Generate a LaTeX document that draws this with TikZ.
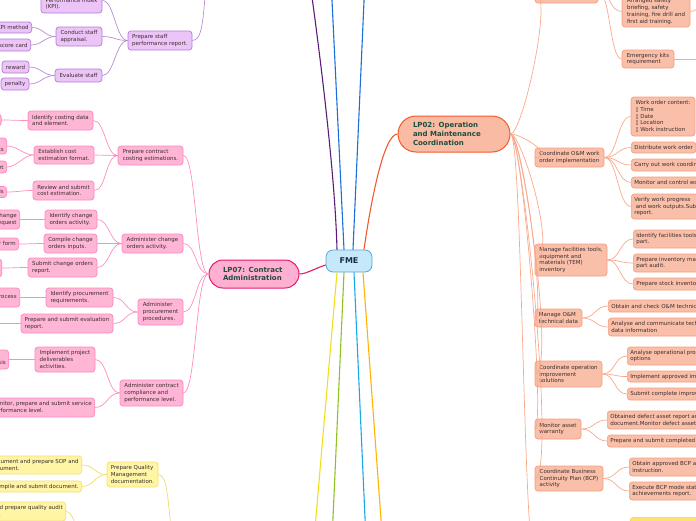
\documentclass[tikz,border=0pt]{standalone}
\usepackage{fontspec}
\setmainfont{DejaVu Sans}
\usetikzlibrary{calc}
\definecolor{txt}{HTML}{3A2E2E}
\definecolor{lptxt}{HTML}{1E4D3C}
\definecolor{fmetxt}{HTML}{1B2A4A}
\definecolor{fmefill}{HTML}{C6E9F9}
\definecolor{fmedraw}{HTML}{5DA3D8}
\definecolor{pkfill}{HTML}{FFB5D5}
\definecolor{pkdraw}{HTML}{FF85BC}
\definecolor{pkline}{HTML}{FF8DC0}
\definecolor{lpsevfill}{HTML}{FFB0D2}
\definecolor{lpsevdraw}{HTML}{E6196F}
\definecolor{sfill}{HTML}{F9BFA9}
\definecolor{sdraw}{HTML}{F59E7E}
\definecolor{sline}{HTML}{F8A98C}
\definecolor{lptwofill}{HTML}{F9BBA4}
\definecolor{lptwodraw}{HTML}{F15A2B}
\definecolor{pfill}{HTML}{ECC4F8}
\definecolor{pdraw}{HTML}{B27CD4}
\definecolor{pline}{HTML}{B98CD4}
\definecolor{yfill}{HTML}{FFF5A5}
\definecolor{ydraw}{HTML}{F1DF73}
\definecolor{yline}{HTML}{EFDD6B}
\definecolor{ybfill}{HTML}{FFE170}
\definecolor{ybdraw}{HTML}{FFD23F}
\definecolor{mpurple}{HTML}{5A1E78}
\definecolor{mblue}{HTML}{1A6FD8}
\definecolor{myellow}{HTML}{F2DE1E}
\definecolor{mgreen}{HTML}{8DC21F}
\definecolor{mlblue}{HTML}{1AA7E8}
\definecolor{morange}{HTML}{FFB300}
\tikzset{
  nd/.style={draw, rounded corners=3pt, align=left, text=txt,
    font=\fontsize{5.5}{6.7}\selectfont, inner xsep=3pt, inner ysep=2pt, line width=0.7pt},
  pkn/.style={nd, fill=pkfill, draw=pkdraw},
  sn/.style={nd, fill=sfill, draw=sdraw},
  pn/.style={nd, fill=pfill, draw=pdraw},
  yn/.style={nd, fill=yfill, draw=ydraw},
  lpn/.style={draw, align=left, text=lptxt, font=\fontsize{7}{8.7}\selectfont\bfseries,
    inner ysep=2pt, line width=1pt},
  fmen/.style={draw=fmedraw, fill=fmefill, rounded corners=7pt, minimum width=46pt,
    minimum height=22pt, font=\fontsize{8}{9}\selectfont\bfseries, text=fmetxt, line width=0.8pt},
  pkl/.style={draw=pkline, line width=0.7pt},
  sl/.style={draw=sline, line width=0.7pt},
  pl/.style={draw=pline, line width=0.7pt},
  yl/.style={draw=yline, line width=0.7pt},
  mainl/.style={line width=1.1pt},
}
\newcommand{\lnkL}[4]{\draw[#1] (#2) .. controls +(-#4,0) and +(#4,0) .. (#3);}
\newcommand{\lnkR}[4]{\draw[#1] (#2) .. controls +(#4,0) and +(-#4,0) .. (#3);}
\begin{document}
\begin{tikzpicture}[x=1pt,y=-1pt]
\useasboundingbox (0,0) rectangle (696,520);
\clip (0,0) rectangle (696,520);

% ---------- main lines from FME ----------
\node[fmen] (fme) at (349,261) {FME};
\coordinate (pu) at (311,-10);
\coordinate (bla) at (331.5,-10);
\coordinate (blb) at (364.5,-10);
\coordinate (ye) at (314,540);
\coordinate (gr) at (332,540);
\coordinate (lb) at (366,540);
\coordinate (orr) at (382.5,540);
\draw[mainl, mpurple] ($(fme.north)+(-12,0)$) .. controls (335,170) and (318,40) .. (pu);
\draw[mainl, mblue] ($(fme.north)+(-5,0)$) -- (bla);
\draw[mainl, mblue] ($(fme.north)+(4,0)$) -- (blb);
\draw[mainl, myellow] ($(fme.south)+(-12,0)$) -- (ye);
\draw[mainl, mgreen] ($(fme.south)+(-5,0)$) -- (gr);
\draw[mainl, mlblue] ($(fme.south)+(5,0)$) -- (lb);
\draw[mainl, morange] ($(fme.south)+(14,0)$) -- (orr);

% ---------- LP07 ----------
\node[lpn, fill=lpsevfill, draw=lpsevdraw, rounded corners=14pt, text width=62pt,
  inner xsep=14pt, minimum height=28pt] (lp7) at (254,274) {LP07: Contract\\Administration};
\draw[mainl, lpsevdraw] ($(fme.west)+(0,4)$) .. controls (316,268) and (306,274) .. (lp7.east);

\node[pkn, minimum width=65pt, minimum height=19pt] (c1) at (150.5,155.5) {Prepare contract\\costing estimations.};
\node[pkn, minimum width=61pt, minimum height=19pt] (c2) at (152.5,243.5) {Administer change\\orders activity.};
\node[pkn, minimum width=45pt, minimum height=26pt] (c3) at (160.5,312) {Administer\\procurement\\procedures.};
\node[pkn, minimum width=63pt, minimum height=26pt] (c4) at (151.5,393) {Administer contract\\compliance and\\performance level.};
\lnkL{pkl}{lp7.west}{c1.east}{13}
\lnkL{pkl}{lp7.west}{c2.east}{13}
\lnkL{pkl}{lp7.west}{c3.east}{13}
\lnkL{pkl}{lp7.west}{c4.east}{13}

\node[pkn, minimum width=65pt, minimum height=19pt] (c1a) at (60.5,120.5) {Identify costing data\\and element.};
\node[pkn, minimum width=60pt, minimum height=18pt] (c1b) at (64,155) {Establish cost\\estimation format.};
\node[pkn, minimum width=61pt, minimum height=19pt] (c1c) at (63.5,190.5) {Review and submit\\cost estimation.};
\lnkL{pkl}{c1.west}{c1a.east}{12}
\lnkL{pkl}{c1.west}{c1b.east}{12}
\lnkL{pkl}{c1.west}{c1c.east}{12}
\node[pkn, anchor=east, minimum height=12pt] (c1a1) at (1.5,120) {Costing data};
\node[pkn, anchor=east, minimum height=16pt] (c1b1) at (7,146) {Cost\\elements};
\node[pkn, anchor=east, minimum height=12pt] (c1b2) at (7,167) {Cost sheet};
\node[pkn, anchor=east, minimum height=11pt] (c1c1) at (7,192) {Cost analysis};
\lnkL{pkl}{c1a.west}{c1a1.east}{10}
\lnkL{pkl}{c1b.west}{c1b1.east}{10}
\lnkL{pkl}{c1b.west}{c1b2.east}{10}
\lnkL{pkl}{c1c.west}{c1c1.east}{10}

\node[pkn, minimum width=52pt, minimum height=19pt] (c2a) at (71,219.5) {Identify change\\orders activity.};
\node[pkn, minimum width=53pt, minimum height=19pt] (c2b) at (70.5,243.5) {Compile change\\orders inputs.};
\node[pkn, minimum width=69pt, minimum height=19pt] (c2c) at (62.5,267.5) {Submit change orders\\report.};
\lnkL{pkl}{c2.west}{c2a.east}{12}
\lnkL{pkl}{c2.west}{c2b.east}{12}
\lnkL{pkl}{c2.west}{c2c.east}{12}
\node[pkn, anchor=east, align=right, minimum height=19pt] (c2a1) at (20,219.5) {Identify change\\order request};
\node[pkn, anchor=east, minimum height=12pt] (c2b1) at (19,244) {Change order form};
\node[pkn, anchor=east, minimum height=18pt] (c2c1) at (2,268) {Change order\\report};
\lnkL{pkl}{c2a.west}{c2a1.east}{10}
\lnkL{pkl}{c2b.west}{c2b1.east}{10}
\lnkL{pkl}{c2c.west}{c2c1.east}{10}

\node[pkn, minimum width=67pt, minimum height=19pt] (c3a) at (79.5,297.5) {Identify procurement\\requirements.};
\node[pkn, minimum width=92pt, minimum height=19pt] (c3b) at (67,323.5) {Prepare and submit evaluation\\report.};
\lnkL{pkl}{c3.west}{c3a.east}{12}
\lnkL{pkl}{c3.west}{c3b.east}{12}
\node[pkn, anchor=east, minimum height=19pt] (c3a1) at (20,297.5) {Procurement process};
\coordinate (c3bx) at (-15,323.5);
\lnkL{pkl}{c3a.west}{c3a1.east}{10}
\lnkL{pkl}{c3b.west}{c3bx}{5}

\node[pkn, minimum width=60pt, minimum height=25pt] (c4a) at (65,359.5) {Implement project\\deliverables\\activities.};
\node[pkn, anchor=east, minimum height=19pt] (c4b) at (95,407.5) {Monitor, prepare and submit service\\performance level.};
\lnkL{pkl}{c4.west}{c4a.east}{12}
\lnkL{pkl}{c4.west}{c4b.east}{12}
\node[pkn, anchor=east, minimum height=19pt] (c4a1) at (9,359.5) {Project\\deliverables analysis};
\lnkL{pkl}{c4a.west}{c4a1.east}{10}

% ---------- purple branch ----------
\coordinate (pL) at (206,-15);
\node[pn, minimum width=64pt, minimum height=19pt] (p0) at (160,40.5) {Prepare staff\\performance report.};
\draw[pl] (p0.east) .. controls +(10,0) and (203,20) .. (pL);
\node[pn, minimum width=61pt, minimum height=25pt] (p1) at (71.5,0.5) {Identify Key\\Performance Index\\(KPI).};
\node[pn, minimum width=46pt, minimum height=19pt] (p2) at (79,36.5) {Conduct staff\\appraisal.};
\node[pn, minimum width=47pt, minimum height=13pt] (p3) at (78.5,75.5) {Evaluate staff};
\lnkL{pl}{p0.west}{p1.east}{12}
\lnkL{pl}{p0.west}{p2.east}{12}
\lnkL{pl}{p0.west}{p3.east}{12}
\node[pn, anchor=east, minimum height=11pt] (p2a) at (32,27.5) {KPI method};
\node[pn, anchor=east, minimum height=12pt] (p2b) at (31,45) {Balanced score card};
\node[pn, minimum width=27pt, minimum height=12pt] (p3a) at (15.5,67) {reward};
\node[pn, minimum width=28pt, minimum height=12pt] (p3b) at (15,84) {penalty};
\lnkL{pl}{p2.west}{p2a.east}{11}
\lnkL{pl}{p2.west}{p2b.east}{11}
\lnkL{pl}{p3.west}{p3a.east}{11}
\lnkL{pl}{p3.west}{p3b.east}{11}

% ---------- yellow branch ----------
\coordinate (yL1) at (172,540);
\coordinate (yL2) at (77,540);
\node[yn, minimum width=51pt, minimum height=25pt] (y0) at (132.5,474.5) {Prepare Quality\\Management\\documentation.};
\draw[yl] (y0.east) .. controls +(9,0) and (168,500) .. (yL1);
\node[yn, anchor=east, minimum height=18pt] (y1) at (82,465) {Document and prepare SOP and\\document.};
\node[yn, anchor=east, minimum height=11pt] (y2) at (82,486.5) {Compile and submit document.};
\node[yn, anchor=east, minimum height=19pt] (y3) at (66,511.5) {Plan and prepare quality audit\\reports.};
\lnkL{yl}{y0.west}{y1.east}{12}
\lnkL{yl}{y0.west}{y2.east}{12}
\draw[yl] (y3.east) .. controls +(6,0) and +(0,-15) .. (yL2);

% ---------- LP02 ----------
\node[lpn, fill=lptwofill, draw=lptwodraw, rounded corners=18pt, text width=82pt,
  inner xsep=15pt, minimum height=36pt] (lp2) at (454,134) {LP02: Operation\\and Maintenance\\Coordination};
\draw[mainl, lptwodraw] ($(fme.north)+(15,0)$) .. controls (371,200) and (384,134) .. (lp2.west);

\node[sn, minimum width=63pt, minimum height=23pt] (s0) at (566.5,-8.5) {};
\node[sn, minimum width=69pt, minimum height=19pt] (s1) at (569.5,157.5) {Coordinate O\&M work\\order implementation};
\node[sn, minimum width=72pt, minimum height=32pt] (s2) at (571,260) {Manage facilities tools,\\equipment and\\materials (TEM)\\inventory};
\node[sn, minimum width=47pt, minimum height=18pt] (s3) at (558.5,318) {Manage O\&M\\technical data};
\node[sn, minimum width=67pt, minimum height=26pt] (s4) at (568.5,374) {Coordinate operation\\improvement\\solutions};
\node[sn, minimum width=46pt, minimum height=20pt] (s5) at (558,429) {Monitor asset\\warranty};
\node[sn, minimum width=68pt, minimum height=25pt] (s6) at (569,478.5) {Coordinate Business\\Continuity Plan (BCP)\\activity};
\coordinate (s7) at (535,560);
\foreach \k in {s0,s1,s2,s3,s4,s5,s6,s7} { \lnkR{sl}{lp2.east}{\k}{12} }

% level 3 under s0
\node[sn, minimum width=68pt, minimum height=31pt] (t0a) at (656,11.5) {Arranged safety\\briefing, safety\\training, fire drill and\\first aid training.};
\node[sn, minimum width=52pt, minimum height=18pt] (t0b) at (648,59) {Emergency kits\\requirement};
\lnkR{sl}{s0.east}{t0a.west}{12}
\lnkR{sl}{s0.east}{t0b.west}{12}
\coordinate (oa) at (712,0);
\coordinate (ob) at (712,59);
\lnkR{sl}{t0a.east}{oa}{8}
\draw[sl] (t0b.east) -- (ob);

% level 3 under s1
\node[sn, minimum width=64pt, minimum height=39pt] (t1a) at (663,116.5) {Work order content:\\▯ Time\\▯ Date\\▯ Location\\▯ Work instruction};
\node[sn, anchor=west, minimum height=11pt] (t1b) at (631,147.5) {Distribute work order};
\node[sn, anchor=west, minimum height=12pt] (t1c) at (631,165) {Carry out work coordination};
\node[sn, anchor=west, minimum height=11pt] (t1d) at (631,182.5) {Monitor and control work};
\node[sn, anchor=west, minimum height=25pt] (t1e) at (631,206.5) {Verify work progress\\\hspace{1.5pt}and work outputs.Submit\\report.};
\foreach \k in {t1a,t1b,t1c,t1d,t1e} { \lnkR{sl}{s1.east}{\k.west}{13} }

% level 3 under s2
\node[sn, anchor=west, minimum height=18pt] (t2a) at (633,239) {Identify facilities tools and spare\\part.};
\node[sn, anchor=west, minimum height=18pt] (t2b) at (633,263) {Prepare inventory management and spare\\part audit.};
\node[sn, anchor=west, minimum height=12pt] (t2c) at (633,284) {Prepare stock inventory};
\foreach \k in {t2a,t2b,t2c} { \lnkR{sl}{s2.east}{\k.west}{13} }

% level 3 under s3
\node[sn, anchor=west, minimum height=12pt] (t3a) at (608,306) {Obtain and check O\&M technical data};
\node[sn, anchor=west, minimum height=18pt] (t3b) at (608,327) {Analyse and communicate technical\\data information};
\foreach \k in {t3a,t3b} { \lnkR{sl}{s3.east}{\k.west}{13} }

% level 3 under s4
\node[sn, anchor=west, minimum height=18pt] (t4a) at (627,356) {Analyse operational problem and\\options};
\node[sn, anchor=west, minimum height=11pt] (t4b) at (627,376.5) {Implement approved improvement};
\node[sn, anchor=west, minimum height=12pt] (t4c) at (627,394) {Submit complete improvement};
\foreach \k in {t4a,t4b,t4c} { \lnkR{sl}{s4.east}{\k.west}{13} }

% level 3 under s5
\node[sn, anchor=west, minimum height=18pt] (t5a) at (607,420) {Obtained defect asset report and\\document.Monitor defect asset};
\node[sn, anchor=west, minimum height=12pt] (t5b) at (607,441) {Prepare and submit completed report};
\foreach \k in {t5a,t5b} { \lnkR{sl}{s5.east}{\k.west}{13} }

% level 3 under s6
\node[sn, anchor=west, minimum height=18pt] (t6a) at (629,467) {Obtain approved BCP and\\instruction.};
\node[sn, anchor=west, minimum height=18pt] (t6b) at (629,491) {Execute BCP mode status and\\achievements report.};
\foreach \k in {t6a,t6b} { \lnkR{sl}{s6.east}{\k.west}{13} }

% bottom right partial node
\node[draw=ybdraw, fill=ybfill, rounded corners=3pt, anchor=north west, minimum width=80pt,
  minimum height=20pt, line width=0.7pt] (yb) at (630,517) {};
\end{tikzpicture}
\end{document}
